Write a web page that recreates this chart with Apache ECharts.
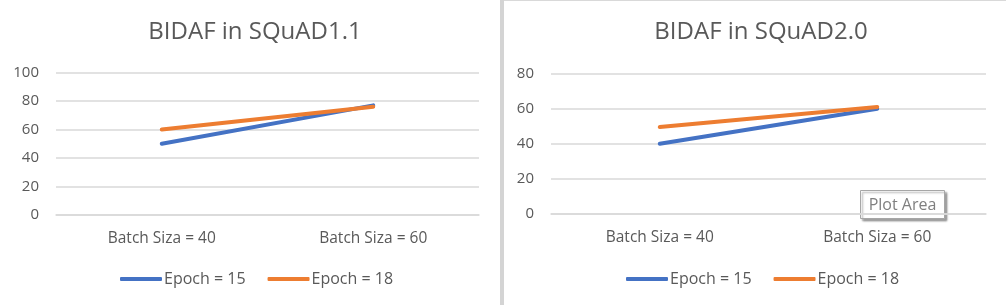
<!DOCTYPE html>
<html><head><meta charset="utf-8">
<script src="https://cdn.jsdelivr.net/npm/echarts@6/dist/echarts.min.js"></script>
<style>html,body{margin:0;padding:0;background:#fff}#c{width:1006px;height:305px}</style>
</head><body><div id="c"></div>
<script>
const categories = ['Batch Siza = 40', 'Batch Siza = 60'];
const seriesNames = ['Epoch = 15', 'Epoch = 18'];
const squad11_e15 = [50, 77];
const squad11_e18 = [60, 76];
const squad20_e15 = [40, 60];
const squad20_e18 = [49.5, 61];
const titles = ['BIDAF in SQuAD1.1', 'BIDAF in SQuAD2.0'];
const yMax = [100, 80];

const FONT = 'Open Sans';
const TXT = '#595959';
const GRID = '#d9d9d9';
const colors = ['#4472C4', '#ED7D31'];

const chart = echarts.init(document.getElementById('c'), null, {renderer: 'canvas'});
function yAxis(i, max) {
  return {type: 'value', gridIndex: i, min: 0, max: max, interval: 20,
    axisLine: {show: false}, axisTick: {show: false},
    axisLabel: {color: TXT, fontFamily: FONT, fontSize: 15, margin: 17},
    splitLine: {lineStyle: {color: GRID, width: 1.5}}};
}
function xAxis(i) {
  return {type: 'category', gridIndex: i, data: categories, boundaryGap: true,
    axisLine: {lineStyle: {color: GRID, width: 1.5}}, axisTick: {show: false},
    axisLabel: {color: TXT, fontFamily: FONT, fontSize: 15.5, margin: 16}};
}
function line(name, data, i, c) {
  return {type: 'line', name: name, data: data, xAxisIndex: i, yAxisIndex: i,
    showSymbol: false, symbol: 'none', color: c,
    lineStyle: {width: 4, color: c, cap: 'round'}, emphasis: {disabled: true}};
}
function legend(center) {
  return {data: seriesNames, top: 266, left: center - 135, width: 300,
    icon: 'roundRect', itemWidth: 42, itemHeight: 4, itemGap: 22,
    textStyle: {color: TXT, fontFamily: FONT, fontSize: 16, padding: [0, 0, 0, -3]},
    selectedMode: false};
}
chart.setOption({
  animation: false,
  title: [
    {text: titles[0], left: 250, textAlign: 'center', top: 15,
     textStyle: {color: TXT, fontFamily: FONT, fontSize: 24, fontWeight: 'normal'}},
    {text: titles[1], left: 756, textAlign: 'center', top: 15,
     textStyle: {color: TXT, fontFamily: FONT, fontSize: 24, fontWeight: 'normal'}}
  ],
  grid: [
    {left: 56, top: 72.7, width: 423, height: 142},
    {left: 551, top: 73.7, width: 435, height: 140}
  ],
  xAxis: [xAxis(0), xAxis(1)],
  yAxis: [yAxis(0, yMax[0]), yAxis(1, yMax[1])],
  legend: [legend(250), legend(756)],
  series: [
    line(seriesNames[0], squad11_e15, 0, colors[0]),
    line(seriesNames[1], squad11_e18, 0, colors[1]),
    line(seriesNames[0], squad20_e15, 1, colors[0]),
    line(seriesNames[1], squad20_e18, 1, colors[1])
  ],
  graphic: [
    {type: 'rect', shape: {x: 500, y: 0, width: 4, height: 305}, style: {fill: '#d4d4d4'}, silent: true},
    {type: 'rect', shape: {x: 504, y: 0, width: 502, height: 1}, style: {fill: '#d9d9d9'}, silent: true},
    {type: 'rect', shape: {x: 860.5, y: 190.5, width: 84, height: 28},
     style: {fill: '#fff', stroke: '#a6a6a6', lineWidth: 1, shadowColor: 'rgba(0,0,0,0.35)', shadowBlur: 2, shadowOffsetX: 2, shadowOffsetY: 2}, silent: true},
    {type: 'text', x: 902.5, y: 205, style: {text: 'Plot Area', fill: '#7f7f7f', font: '16px "Open Sans"', align: 'center', verticalAlign: 'middle'}, silent: true}
  ]
});
</script></body></html>
